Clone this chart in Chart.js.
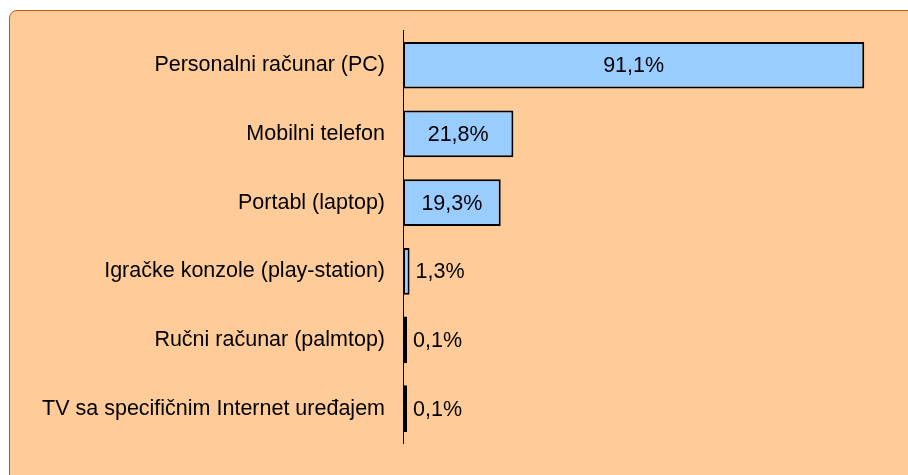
<!DOCTYPE html>
<html lang='sr'>
<head>
    <meta charset='UTF-8'>
    <title>Uređaji</title>
    <style>
        body {
            margin: 0;
            padding: 0;
            background-color: #fff;
            overflow: hidden;
        }
        .frame {
            position: absolute;
            left: 9px;
            top: 10px;
            width: 920px;
            height: 490px;
            background-color: #FFCC99;
            border: 1px solid #C0581E;
            border-radius: 8px;
        }
        #deviceChart {
            position: absolute;
            left: 0;
            top: 0;
        }
    </style>
</head>
<body>
    <div class='frame'></div>
    <canvas id='deviceChart' width='908' height='475'></canvas>

    <script src='https://cdn.jsdelivr.net/npm/chart.js'></script>
    <script>
        const categories = [
            'Personalni računar (PC)',
            'Mobilni telefon',
            'Portabl (laptop)',
            'Igračke konzole (play-station)',
            'Ručni računar (palmtop)',
            'TV sa specifičnim Internet uređajem'
        ];
        const shares = [91.1, 21.8, 19.3, 1.3, 0.1, 0.1];

        const fontFamily = '"Liberation Sans", Arial, sans-serif';

        function fmt(v) {
            return v.toFixed(1).replace('.', ',') + '%';
        }

        // value labels: inside for long bars, right of bar for short ones
        const valueLabels = {
            id: 'valueLabels',
            afterDatasetsDraw(chart) {
                const ctx = chart.ctx;
                const meta = chart.getDatasetMeta(0);
                ctx.save();
                ctx.font = '21.5px ' + fontFamily;
                ctx.fillStyle = '#000';
                ctx.textBaseline = 'middle';
                meta.data.forEach((bar, i) => {
                    const v = shares[i];
                    if (v > 10) {
                        ctx.textAlign = 'center';
                        ctx.fillText(fmt(v), (bar.x + bar.base) / 2, bar.y + 1);
                    } else {
                        ctx.textAlign = 'left';
                        ctx.fillText(fmt(v), bar.x + 6, bar.y + 1);
                    }
                });
                ctx.restore();
            }
        };

        new Chart(document.getElementById('deviceChart'), {
            type: 'bar',
            data: {
                labels: categories,
                datasets: [{
                    data: shares,
                    backgroundColor: (c) => c.raw < 0.5 ? '#1C2633' : '#99CCFF',
                    borderColor: '#000',
                    borderWidth: 2,
                    borderSkipped: false,
                    minBarLength: 4,
                    barPercentage: 0.68,
                    categoryPercentage: 1
                }]
            },
            options: {
                indexAxis: 'y',
                responsive: false,
                animation: false,
                layout: {
                    padding: { left: 0, right: 24, top: 30, bottom: 32 }
                },
                plugins: {
                    legend: { display: false },
                    tooltip: { enabled: false }
                },
                scales: {
                    x: {
                        display: false,
                        min: 0,
                        max: 95
                    },
                    y: {
                        afterFit(scale) { scale.width = 403; },
                        grid: { display: false, drawTicks: false },
                        border: { display: true, color: '#000', width: 1 },
                        ticks: {
                            padding: 18,
                            color: '#000',
                            font: { family: fontFamily, size: 21.5 }
                        }
                    }
                }
            },
            plugins: [valueLabels]
        });
    </script>
</body>
</html>
